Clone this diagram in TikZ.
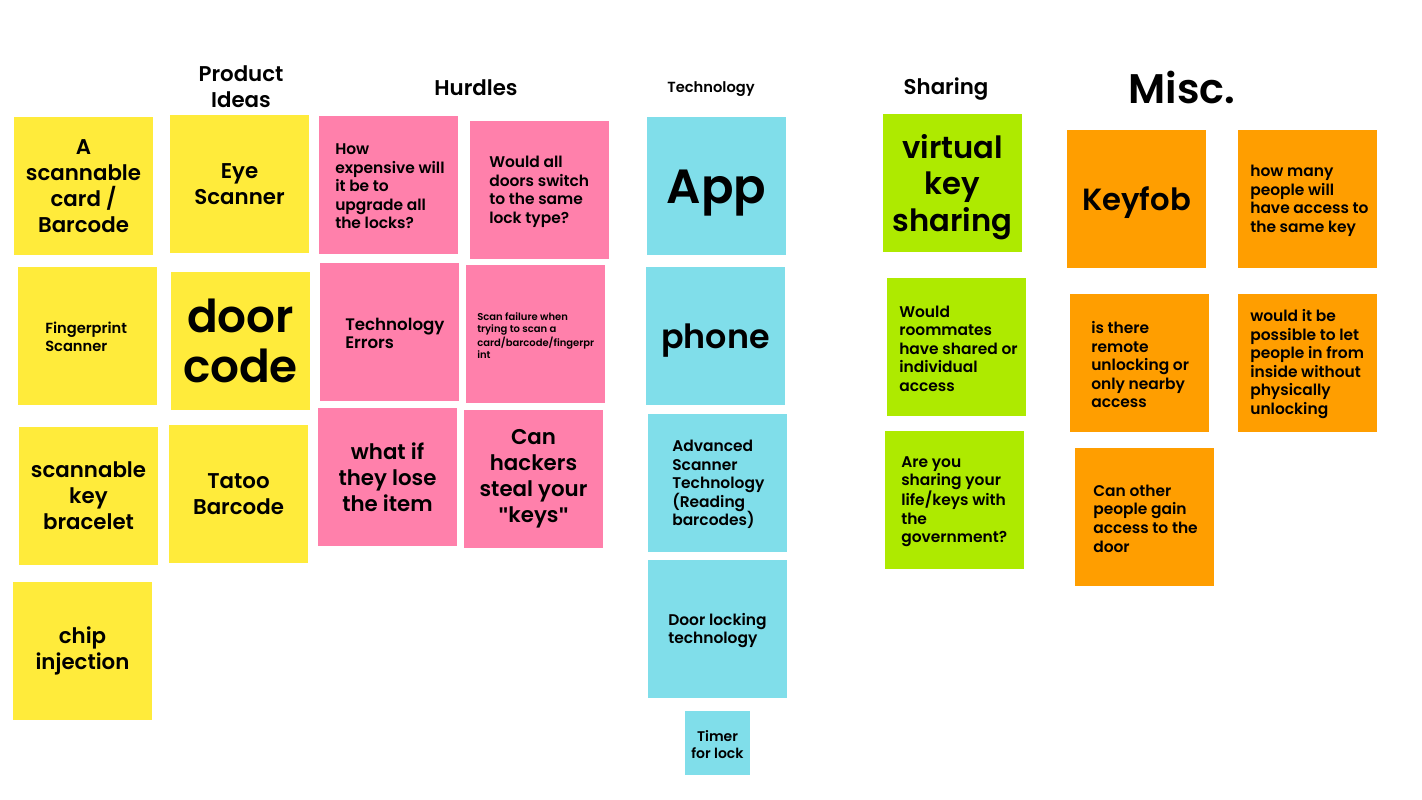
\documentclass[tikz,border=0pt]{standalone}
\usepackage{fontspec}
\setmainfont{Poppins}[BoldFont={Poppins SemiBold}]
\newfontfamily\qfont{Liberation Sans}
\definecolor{yel}{HTML}{FFEB3B}
\definecolor{pnk}{HTML}{FF80AB}
\definecolor{cya}{HTML}{80DEEA}
\definecolor{grn}{HTML}{AEEA00}
\definecolor{org}{HTML}{FF9E00}
\newcommand{\fs}[2]{\fontsize{#1}{#2}\selectfont\bfseries}
\newcommand{\sq}{{\qfont\bfseries\char34}}
\tikzset{
  note/.style={minimum width=104.25pt, minimum height=103.5pt, inner sep=0pt, draw=none},
  ctxt/.style={align=center, inner sep=0pt, text=black},
  ltxt/.style={anchor=west, align=left, inner sep=0pt, text=black, yshift=-1.2pt},
  title/.style={align=center, inner sep=0pt, text=black},
}
\begin{document}
\begin{tikzpicture}[x=0.75pt,y=-0.75pt]
\useasboundingbox (0,0) rectangle (1422,800);
% titles
\node[title, font=\fs{16}{19.5}] (tprod) at (241,87) {Product\\Ideas};
\node[title, font=\fs{16}{19.5}] (thurd) at (476,88) {Hurdles};
\node[title, font=\fs{11}{13}] (ttech) at (711,89) {Technology};
\node[title, font=\fs{16}{19.5}] (tshar) at (946,89) {Sharing};
\node[title, font=\fs{31}{36}] (tmisc) at (1182,87) {Misc.};
% yellow column 1
\node[note, fill=yel] (y1) at (83.5,186) {};
\node[ctxt, font=\fs{16}{19.5}] (y1t) at (y1) {A\\scannable\\card /\\Barcode};
\node[note, fill=yel] (y2) at (87.5,336) {};
\node[ltxt, font=\fs{11}{13.5}] (y2t) at (45,335) {Fingerprint\\Scanner};
\node[note, fill=yel] (y3) at (88.5,496) {};
\node[ctxt, font=\fs{16}{19.5}] (y3t) at (y3) {scannable\\key\\bracelet};
\node[note, fill=yel] (y4) at (82.5,651) {};
\node[ctxt, font=\fs{16}{19.5}] (y4t) at (y4) {chip\\injection};
% yellow column 2
\node[note, fill=yel] (y5) at (239.5,184) {};
\node[ctxt, font=\fs{16}{19.5}] (y5t) at (y5) {Eye\\Scanner};
\node[note, fill=yel] (y6) at (240.5,341) {};
\node[ctxt, font=\fs{34}{38}] (y6t) at (y6) {door\\code};
\node[note, fill=yel] (y7) at (238.5,494) {};
\node[ctxt, font=\fs{16}{19.5}] (y7t) at (y7) {Tatoo\\Barcode};
% pink
\node[note, fill=pnk] (p1) at (388.5,185) {};
\node[ltxt, font=\fs{11.6}{13.9}] (p1t) at (335,185) {How\\expensive will\\it be to\\upgrade all\\the locks?};
\node[note, fill=pnk] (p2) at (539.5,190) {};
\node[ltxt, font=\fs{11.6}{13.9}] (p2t) at (489,190) {Would all\\doors switch\\to the same\\lock type?};
\node[note, fill=pnk] (p3) at (389.5,332) {};
\node[ltxt, font=\fs{12.5}{13.5}] (p3t) at (345,332) {Technology\\Errors};
\node[note, fill=pnk] (p4) at (535.5,334) {};
\node[ltxt, font=\fs{7.5}{9}] (p4t) at (477,334) {Scan failure when\\trying to scan a\\card/barcode/fingerpr\\int};
\node[note, fill=pnk] (p5) at (387.5,477) {};
\node[ctxt, font=\fs{16}{19.5}] (p5t) at (p5) {what if\\they lose\\the item};
\node[note, fill=pnk] (p6) at (533.5,479) {};
\node[ctxt, font=\fs{16}{19.5}] (p6t) at (p6) {Can\\hackers\\steal your\\\sq keys\sq};
% cyan
\node[note, fill=cya] (c1) at (716.5,186) {};
\node[ctxt, font=\fs{36}{40}, yshift=-5pt] (c1t) at (c1) {App};
\node[note, fill=cya] (c2) at (715.5,336) {};
\node[ctxt, font=\fs{25}{30}, yshift=-3.5pt] (c2t) at (c2) {phone};
\node[note, fill=cya] (c3) at (717.5,483) {};
\node[ltxt, font=\fs{11.6}{13.9}] (c3t) at (672,483) {Advanced\\Scanner\\Technology\\(Reading\\barcodes)};
\node[note, fill=cya] (c4) at (717.5,629) {};
\node[ltxt, font=\fs{11.6}{13.9}] (c4t) at (668,629) {Door locking\\technology};
\node[minimum width=48.75pt, minimum height=48pt, inner sep=0pt, fill=cya] (c5) at (717.5,743) {};
\node[ctxt, font=\fs{10.5}{12.8}, yshift=-1pt] (c5t) at (c5) {Timer\\for lock};
% green
\node[note, fill=grn] (g1) at (952.5,183) {};
\node[ctxt, font=\fs{23}{27.4}, yshift=-3pt] (g1t) at (g1) {virtual\\key\\sharing};
\node[note, fill=grn] (g2) at (956.5,347) {};
\node[ltxt, font=\fs{11.6}{13.9}] (g2t) at (899,347) {Would\\roommates\\have shared or\\individual\\access};
\node[note, fill=grn] (g3) at (954.5,500) {};
\node[ltxt, font=\fs{11.6}{13.9}] (g3t) at (901,500) {Are you\\sharing your\\life/keys with\\the\\government?};
% orange
\node[note, fill=org] (o1) at (1136.5,199) {};
\node[ctxt, font=\fs{23}{27}, yshift=-3pt] (o1t) at (o1) {Keyfob};
\node[note, fill=org] (o2) at (1307.5,199) {};
\node[ltxt, font=\fs{11.6}{13.9}] (o2t) at (1250,199) {how many\\people will\\have access to\\the same key};
\node[note, fill=org] (o3) at (1139.5,363) {};
\node[ltxt, font=\fs{11.6}{13.9}] (o3t) at (1091,363) {is there\\remote\\unlocking or\\only nearby\\access};
\node[note, fill=org] (o4) at (1307,362.5) {};
\node[ltxt, font=\fs{11.6}{13.9}] (o4t) at (1250,362.5) {would it be\\possible to let\\people in from\\inside without\\physically\\unlocking};
\node[note, fill=org] (o5) at (1144,517) {};
\node[ltxt, font=\fs{11.6}{13.9}] (o5t) at (1093,517) {Can other\\people gain\\access to the\\door};
\end{tikzpicture}
\end{document}
